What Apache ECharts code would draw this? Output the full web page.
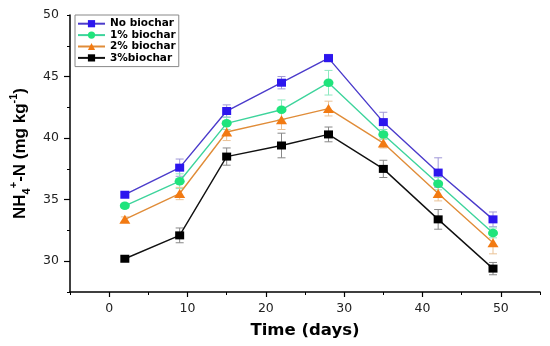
<!DOCTYPE html>
<html><head><meta charset="utf-8">
<script src="https://cdn.jsdelivr.net/npm/echarts@6/dist/echarts.min.js"></script>
<style>html,body{margin:0;padding:0;background:#fff}#c{width:550px;height:346px}</style>
</head><body><div id="c"></div>
<script>
var days = [2, 9, 15, 22, 28, 35, 42, 49];
var seriesNames = ['No biochar', '1% biochar', '2% biochar', '3%biochar'];
var noBiochar = [35.4, 37.6, 42.2, 44.5, 46.5, 41.3, 37.2, 33.4];
var biochar1 = [34.5, 36.5, 41.2, 42.3, 44.5, 40.3, 36.3, 32.3];
var biochar2 = [33.4, 35.5, 40.5, 41.5, 42.4, 39.6, 35.5, 31.5];
var biochar3 = [30.2, 32.1, 38.5, 39.4, 40.3, 37.5, 33.4, 29.4];
var errNo = [0.2, 0.7, 0.5, 0.5, 0.3, 0.8, 1.2, 0.6];
var err1 = [0.2, 0.6, 0.5, 0.8, 1.0, 0.4, 0.5, 0.4];
var err2 = [0.2, 0.5, 0.7, 0.8, 0.6, 0.4, 0.6, 0.9];
var err3 = [0.2, 0.6, 0.7, 1.0, 0.6, 0.7, 0.8, 0.5];
var yTickLabels = [30, 35, 40, 45, 50];
var xTickLabels = [0, 10, 20, 30, 40, 50];

var allVals = [noBiochar, biochar1, biochar2, biochar3];
var allErr = [errNo, err1, err2, err3];
var lineColors = ['#4B3BCB', '#3ED49C', '#E08C38', '#111111'];
var markColors = ['#2C16EE', '#1FE47C', '#F27A12', '#000000'];
var errColors = ['#A098D8', '#8EE8C0', '#EAC296', '#888888'];
var symbols = ['rect', 'circle', 'triangle', 'rect'];
var symSizes = [[9, 8], [10, 8.5], [11, 9], [9, 8]];

var chart = echarts.init(document.getElementById('c'), null, {renderer: 'canvas'});
var series = [];
allVals.forEach(function (vals, i) {
  series.push({
    type: 'line', name: seriesNames[i], z: 3,
    data: days.map(function (d, k) { return [d, vals[k]]; }),
    symbol: symbols[i], symbolSize: symSizes[i], showAllSymbol: true,
    color: markColors[i],
    lineStyle: {color: lineColors[i], width: 1.4},
    itemStyle: {color: markColors[i], borderWidth: 0},
    emphasis: {disabled: true}
  });
});
allVals.forEach(function (vals, i) {
  series.push({
    type: 'custom', name: seriesNames[i], z: 1,
    silent: true,
    data: days.map(function (d, k) { return [d, vals[k] - allErr[i][k], vals[k] + allErr[i][k]]; }),
    renderItem: function (params, api) {
      var lo = api.coord([api.value(0), api.value(1)]);
      var hi = api.coord([api.value(0), api.value(2)]);
      var w = 4;
      var st = {stroke: errColors[i], lineWidth: 1};
      return {type: 'group', children: [
        {type: 'line', shape: {x1: lo[0], y1: lo[1], x2: hi[0], y2: hi[1]}, style: st},
        {type: 'line', shape: {x1: lo[0] - w, y1: lo[1], x2: lo[0] + w, y2: lo[1]}, style: st},
        {type: 'line', shape: {x1: hi[0] - w, y1: hi[1], x2: hi[0] + w, y2: hi[1]}, style: st}
      ]};
    }
  });
});

var axisFont = {fontFamily: 'DejaVu Sans, sans-serif', fontSize: 12.5, color: '#222'};
chart.setOption({
  animation: false,
  backgroundColor: '#fff',
  grid: {left: 70, right: 10, top: 15, bottom: 54, containLabel: false, outerBoundsContain: 'axisLabel'},
  legend: {
    data: seriesNames, orient: 'vertical', left: 75, top: 15,
    itemWidth: 27, itemHeight: 9, itemGap: 0,
    borderColor: '#888', borderWidth: 1, padding: [3, 3, 3, 2],
    textStyle: {fontFamily: 'DejaVu Sans, sans-serif', fontSize: 10.5, fontWeight: 'bold', color: '#000', lineHeight: 11.4}
  },
  xAxis: {
    type: 'value', min: -5, max: 55, interval: 10,
    name: 'Time (days)', nameLocation: 'middle', nameGap: 30,
    nameTextStyle: {fontFamily: 'DejaVu Sans, sans-serif', fontSize: 16.5, fontWeight: 'bold', color: '#000'},
    axisLine: {show: true, onZero: false, lineStyle: {color: '#000', width: 1.5}},
    axisTick: {show: true, inside: false, length: 3, lineStyle: {color: '#000', width: 1}},
    minorTick: {show: true, splitNumber: 2, length: 5, lineStyle: {color: '#000', width: 1.2}},
    axisLabel: Object.assign({margin: 10, customValues: xTickLabels}, axisFont),
    splitLine: {show: false}, minorSplitLine: {show: false}
  },
  yAxis: {
    type: 'value', min: 27.5, max: 50, interval: 5,
    name: '{b|NH}{sub|4}{sup|+}{b|-N (mg kg}{sup|-1}{b|)}',
    nameLocation: 'middle', nameGap: 36, nameRotate: 90,
    nameTextStyle: {
      rich: {
        b: {fontFamily: 'Liberation Sans, Arial, sans-serif', fontSize: 17, fontWeight: 'bold', color: '#000', lineHeight: 24, verticalAlign: 'middle'},
        sub: {fontFamily: 'Liberation Sans, Arial, sans-serif', fontSize: 11, fontWeight: 'bold', color: '#000', lineHeight: 24, verticalAlign: 'bottom', padding: [8, 0, 0, 0]},
        sup: {fontFamily: 'Liberation Sans, Arial, sans-serif', fontSize: 11, fontWeight: 'bold', color: '#000', lineHeight: 24, verticalAlign: 'top', padding: [0, 0, 6, 0]}
      }
    },
    axisLine: {show: true, onZero: false, lineStyle: {color: '#000', width: 1.5}},
    axisTick: {show: true, inside: false, length: 3, lineStyle: {color: '#000', width: 1}},
    minorTick: {show: true, splitNumber: 2, length: 6, lineStyle: {color: '#000', width: 1.2}},
    axisLabel: Object.assign({margin: 11, customValues: yTickLabels}, axisFont),
    splitLine: {show: false}, minorSplitLine: {show: false}
  },
  series: series
});
</script></body></html>
